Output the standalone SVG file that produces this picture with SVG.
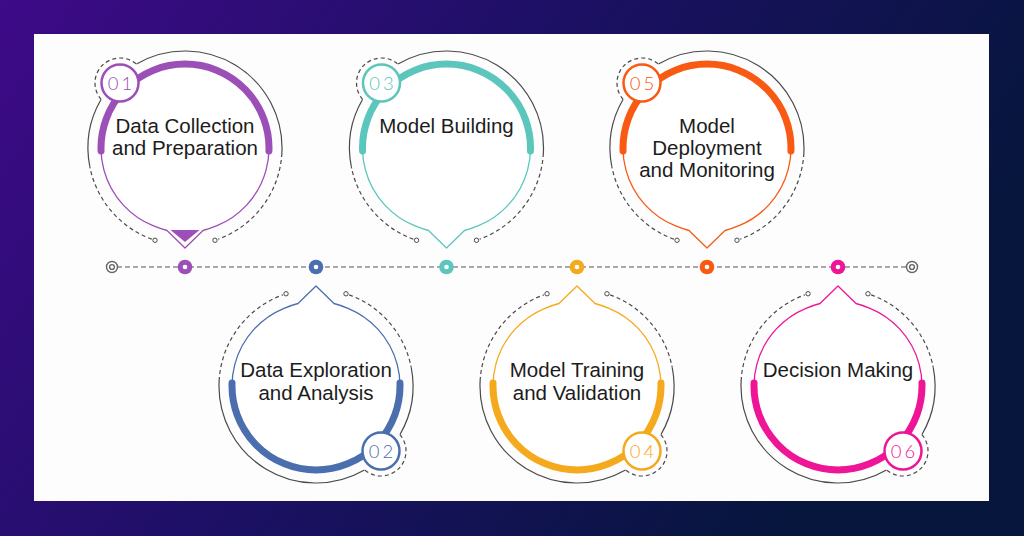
<svg xmlns="http://www.w3.org/2000/svg" xmlns:xlink="http://www.w3.org/1999/xlink" width="1024" height="536" viewBox="0 0 1024 536">
  <defs>
    <linearGradient id="bg" x1="0" y1="0" x2="1" y2="0.35">
      <stop offset="0" stop-color="#3e0a88"/>
      <stop offset="0.5" stop-color="#1c1064"/>
      <stop offset="1" stop-color="#06163c"/>
    </linearGradient>
    <style>
      .ring{fill:none;stroke:#4a4a4a;stroke-width:1.2}
      .dash{fill:none;stroke:#4a4a4a;stroke-width:1.2;stroke-dasharray:4 3}
      .tip{fill:#fff;stroke:#4a4a4a;stroke-width:1}
      .drop{fill:#fff;stroke:currentColor;stroke-width:1.3;stroke-linejoin:round}
      .thick{fill:none;stroke:currentColor;stroke-width:7;stroke-linecap:round}
      .badge{fill:#fff;stroke:currentColor;stroke-width:2.5}
      .label{font-family:"Liberation Sans",Arial,sans-serif;font-size:20.5px;fill:#1c1c1c;text-anchor:middle}
      .num{font-family:Lato,"Open Sans",sans-serif;font-weight:300;font-size:18.5px;letter-spacing:3px;text-anchor:middle}
      .line{fill:none;stroke:#555;stroke-width:1.2;stroke-dasharray:5 3}
      .cap{fill:#fff;stroke:#666;stroke-width:1.4}
    </style>
    <g id="shape">
      <path class="ring" d="M -48.5,-84 A 97 97 0 0 1 96.87,5.08"/>
      <path class="ring" d="M -95.22,18.51 A 97 97 0 0 1 -84,-48.5"/>
      <path class="dash" d="M 96.87,5.08 A 97 97 0 0 1 33.18,91.15"/>
      <path class="dash" d="M -33.18,91.15 A 97 97 0 0 1 -95.22,18.51"/>
      <circle class="tip" cx="29.97" cy="92.25" r="2.2"/>
      <circle class="tip" cx="-29.97" cy="92.25" r="2.2"/>
      <path class="dash" d="M -83.87,-48.6 A 25 25 0 0 1 -48.6,-83.87"/>
      <path class="drop" d="M -32,77.7 Q -25,80.6 -18,82.5 L 0,100 L 18,82.5 Q 25,80.6 32,77.7 A 84 84 0 1 0 -32,77.7 Z"/>
      <path class="thick" d="M -83.95,2.93 A 84 84 0 1 1 83.95,2.93"/>
      <circle class="badge" cx="-65" cy="-65" r="18.5"/>
    </g>
  </defs>

  <rect width="1024" height="536" fill="url(#bg)"/>
  <rect x="34" y="34" width="955" height="467" fill="#fdfdfd"/>

  <g id="connectors">
    <path class="line" d="M 117,267 H 907"/>
    <circle class="cap" cx="112" cy="267" r="5.5"/>
    <circle class="cap" cx="112" cy="267" r="2.4"/>
    <circle class="cap" cx="912" cy="267" r="5.5"/>
    <circle class="cap" cx="912" cy="267" r="2.4"/>
    <circle cx="185" cy="267" r="7.3" fill="#9c4fb7"/>
    <circle cx="185" cy="267" r="2.3" fill="#fff"/>
    <circle cx="316" cy="267" r="7.3" fill="#4b6fae"/>
    <circle cx="316" cy="267" r="2.3" fill="#fff"/>
    <circle cx="446.5" cy="267" r="7.3" fill="#5cc6bd"/>
    <circle cx="446.5" cy="267" r="2.3" fill="#fff"/>
    <circle cx="577" cy="267" r="7.3" fill="#f5a91c"/>
    <circle cx="577" cy="267" r="2.3" fill="#fff"/>
    <circle cx="707" cy="267" r="7.3" fill="#f85a14"/>
    <circle cx="707" cy="267" r="2.3" fill="#fff"/>
    <circle cx="838" cy="267" r="7.3" fill="#ee1597"/>
    <circle cx="838" cy="267" r="2.3" fill="#fff"/>
  </g>

  <g id="node1">
    <use xlink:href="#shape" href="#shape" transform="translate(185,148)" style="color:#9c4fb7"/>
    <polygon points="170.5,230 199.5,230 185,242" fill="#9c4fb7"/>
    <text class="num" x="121.5" y="89.5" fill="#9c4fb7">01</text>
    <text class="label" x="185" y="133">Data Collection</text>
    <text class="label" x="185" y="155">and Preparation</text>
  </g>

  <g id="node2">
    <use xlink:href="#shape" href="#shape" transform="translate(316,386) rotate(180)" style="color:#4b6fae"/>
    <text class="num" x="382.5" y="457.5" fill="#4b6fae">02</text>
    <text class="label" x="316" y="377">Data Exploration</text>
    <text class="label" x="316" y="400">and Analysis</text>
  </g>

  <g id="node3">
    <use xlink:href="#shape" href="#shape" transform="translate(446.5,148)" style="color:#5cc6bd"/>
    <text class="num" x="383" y="89.5" fill="#5cc6bd">03</text>
    <text class="label" x="446.5" y="133">Model Building</text>
  </g>

  <g id="node4">
    <use xlink:href="#shape" href="#shape" transform="translate(577,386) rotate(180)" style="color:#f5a91c"/>
    <text class="num" x="643.5" y="457.5" fill="#f5a91c">04</text>
    <text class="label" x="577" y="377">Model Training</text>
    <text class="label" x="577" y="400">and Validation</text>
  </g>

  <g id="node5">
    <use xlink:href="#shape" href="#shape" transform="translate(707,148)" style="color:#f85a14"/>
    <text class="num" x="643.5" y="89.5" fill="#f85a14">05</text>
    <text class="label" x="707" y="133">Model</text>
    <text class="label" x="707" y="155">Deployment</text>
    <text class="label" x="707" y="177">and Monitoring</text>
  </g>

  <g id="node6">
    <use xlink:href="#shape" href="#shape" transform="translate(838,386) rotate(180)" style="color:#ee1597"/>
    <text class="num" x="904.5" y="457.5" fill="#ee1597">06</text>
    <text class="label" x="838" y="377">Decision Making</text>
  </g>
</svg>
